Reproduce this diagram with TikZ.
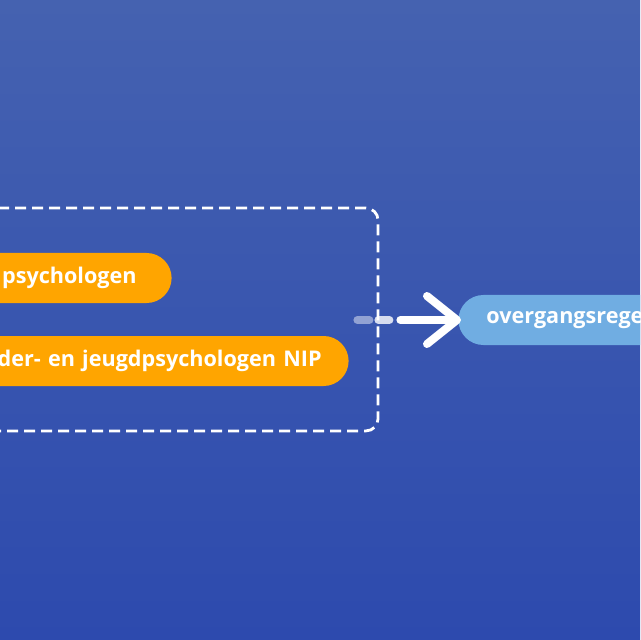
\documentclass[tikz,border=0pt]{standalone}
\usepackage{fontspec}
\setmainfont{Open Sans}
\usetikzlibrary{positioning,fit,arrows.meta}
\definecolor{bgtop}{HTML}{4562B0}
\definecolor{bgbottom}{HTML}{2D4AAE}
\definecolor{pillorange}{HTML}{FFA500}
\definecolor{pillblue}{HTML}{70ADE2}
\def \lineWidth {4pt}

\begin{document}
\begin{tikzpicture}[x=0.5pt,y=-0.5pt,
   pill/.style={rounded corners=12.5pt, minimum height=25pt, inner ysep=0pt, text=white,
      font=\bfseries\fontsize{10.8}{12}\selectfont},
   orangepill/.style={pill, fill=pillorange, align=right},
   bluepill/.style={pill, fill=pillblue, align=left, text width=200pt, inner xsep=14pt},
   groupbox/.style={draw=white, rounded corners=6pt, line width=1.4pt, dash pattern=on 5.5pt off 3pt},
   linkline/.style={draw=white, line width=\lineWidth, line cap=round}]
   \shade[top color=bgtop, bottom color=bgbottom] (0,0) rectangle (640,640);
   \useasboundingbox (0,0) rectangle (640,640);
   \clip (0,0) rectangle (640,640);
   % the two orange pills, cut off at the left edge
   \node[orangepill, text width=200pt, inner xsep=17.5pt, anchor=east] (psych) at (172,278) {psychologen};
   \node[orangepill, text width=250pt, inner xsep=13.5pt, anchor=east] (jeugd) at (349,361) {der- en jeugdpsychologen NIP};
   \node[groupbox, fit=(psych)(jeugd), inner xsep=14.5pt, inner ysep=22.25pt] (group) {};
   \node[bluepill, anchor=west] (ovg) at (458,320) {overgangsrege};
   % fading link into the arrow
   \coordinate (tail) at ([xshift=-11pt]group.east |- ovg.west);
   \draw[linkline, opacity=0.45] (tail) -- ++(12,0);
   \draw[linkline, opacity=0.8] ([xshift=10.5pt]tail) -- ++(11,0);
   \draw[linkline, -{Straight Barb[length=15pt, width=24pt, round]}] ([xshift=21.5pt]tail) -- ([xshift=1.5pt]ovg.west);
\end{tikzpicture}
\end{document}
